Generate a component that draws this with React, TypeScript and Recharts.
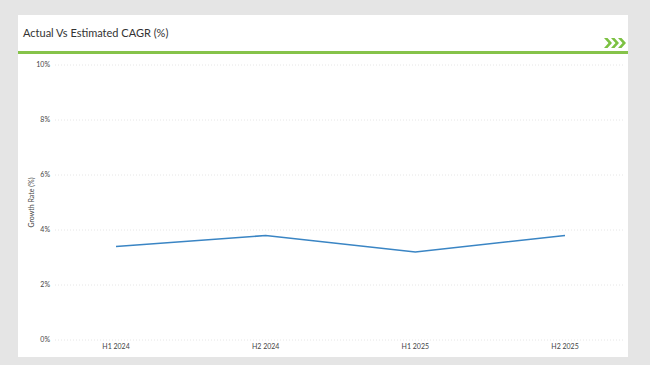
import React from 'react';
import { LineChart, Line, XAxis, YAxis, CartesianGrid } from 'recharts';

const periods = ['H1 2024', 'H2 2024', 'H1 2025', 'H2 2025'];
const growthRates = [3.4, 3.8, 3.2, 3.8];
const yTicks = [0, 2, 4, 6, 8, 10];

const chartData = periods.map((period, i) => ({ period, rate: growthRates[i] }));

const FONT = 'Lato, "Open Sans", sans-serif';

const YLabel = (props: any) => {
  const vb = props.viewBox || {};
  const cy = (vb.y ?? 0) + (vb.height ?? 0) / 2;
  return (
    <text
      x={13}
      y={cy}
      transform={`rotate(-90, 13, ${cy})`}
      textAnchor="middle"
      dominantBaseline="central"
      fontSize={7}
      fill="#444"
      fontFamily={FONT}
    >
      Growth Rate (%)
    </text>
  );
};

const App: React.FC = () => {
  return (
    <div
      style={{
        position: 'absolute',
        left: 0,
        top: 0,
        width: 650,
        height: 365,
        background: '#e5e5e5',
        overflow: 'hidden',
        fontFamily: FONT,
      }}
    >
      <div
        style={{
          position: 'absolute',
          left: 18,
          top: 15,
          width: 610,
          height: 342,
          background: '#fff',
        }}
      >
        <div
          style={{
            position: 'absolute',
            left: 5,
            top: 11,
            fontSize: 11,
            color: '#333',
          }}
        >
          Actual Vs Estimated CAGR (%)
        </div>
        <svg style={{ position: 'absolute', left: 586, top: 23 }} width={22} height={10}>
          {[0, 7, 14].map((dx) => (
            <polygon
              key={dx}
              points={`${dx},0 ${dx + 3.5},0 ${dx + 8},5 ${dx + 3.5},10 ${dx},10 ${dx + 4.5},5`}
              fill="#7cc142"
            />
          ))}
        </svg>
        <div
          style={{
            position: 'absolute',
            left: 0,
            top: 36,
            width: 610,
            height: 2.5,
            background: '#86c34a',
          }}
        />
        <div style={{ position: 'absolute', left: 0, top: 39 }}>
          <LineChart
            width={610}
            height={303}
            data={chartData}
            margin={{ top: 11, right: 3, bottom: 0, left: 0 }}
          >
            <CartesianGrid
              vertical={false}
              stroke="#e6e6e6"
              strokeDasharray="1 2"
            />
            <XAxis
              dataKey="period"
              axisLine={false}
              tickLine={false}
              tickSize={4}
              tickMargin={0}
              height={17}
              interval={0}
              padding={{ left: 61, right: 60 }}
              tick={{ fontSize: 7, fill: '#444', fontFamily: FONT }}
            />
            <YAxis
              domain={[0, 10]}
              ticks={yTicks}
              axisLine={false}
              tickLine={false}
              tickSize={4}
              tickMargin={1}
              width={37}
              tickFormatter={(v: number) => `${v}%`}
              tick={{ fontSize: 7, fill: '#444', fontFamily: FONT }}
              label={<YLabel />}
            />
            <Line
              type="linear"
              dataKey="rate"
              stroke="#3a85c4"
              strokeWidth={1.6}
              dot={false}
              activeDot={false}
              isAnimationActive={false}
            />
          </LineChart>
        </div>
      </div>
    </div>
  );
};

export default App;
